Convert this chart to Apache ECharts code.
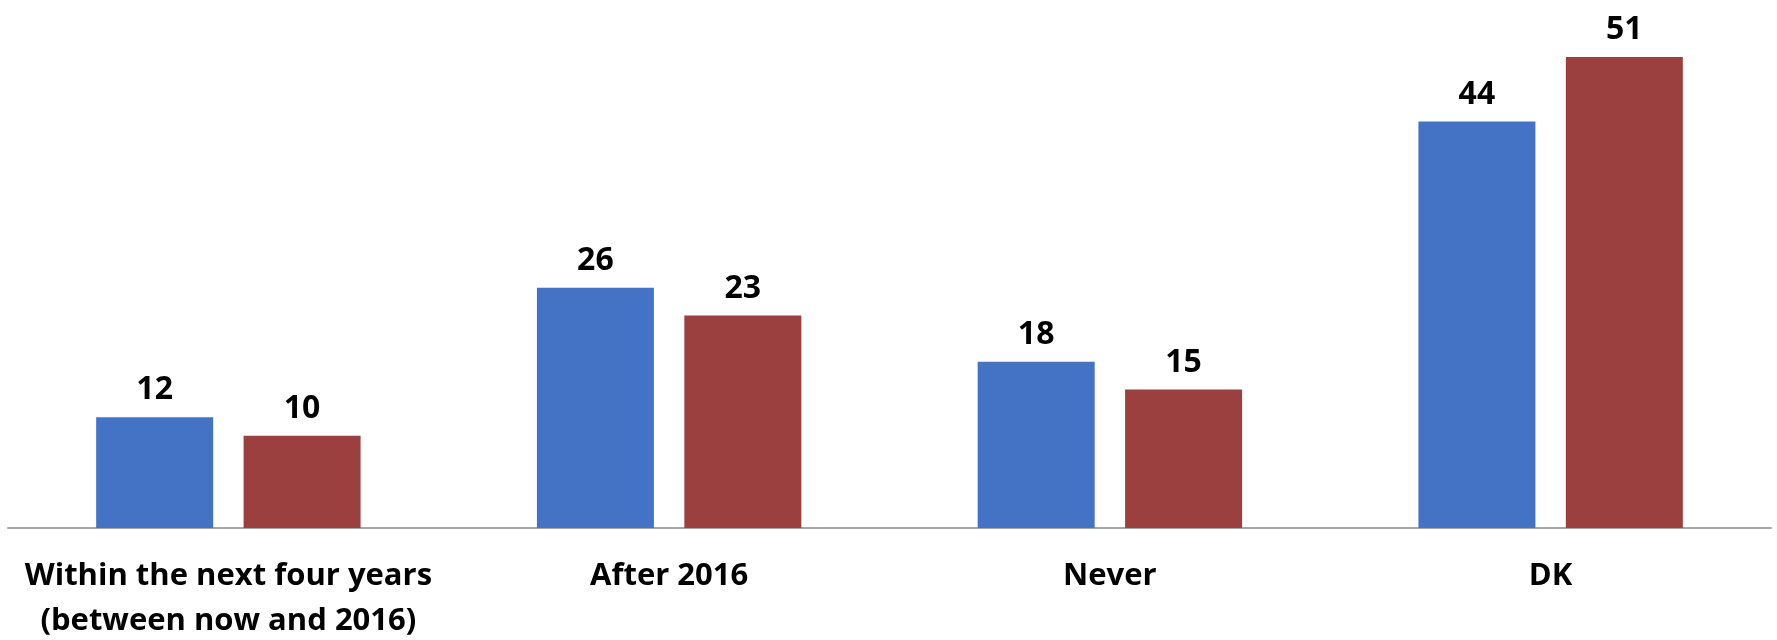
<!DOCTYPE html>
<html><head><meta charset="utf-8">
<script src="https://cdn.jsdelivr.net/npm/echarts@6/dist/echarts.min.js"></script>
<style>html,body{margin:0;padding:0;background:#fff}#c{width:1777px;height:640px}</style>
</head><body><div id="c"></div>
<script>
var categories = ["Within the next four years\n(between now and 2016)", "After 2016", "Never", "DK"];
var seriesA = [12, 26, 18, 44];
var seriesB = [10, 23, 15, 51];
var chart = echarts.init(document.getElementById('c'));
var lbl = {show: true, position: 'top', distance: 11, fontFamily: 'Open Sans', fontWeight: 'bold', fontSize: 32, color: '#000'};
chart.setOption({
  animation: false,
  grid: {left: 8, right: 6, top: 20, bottom: 112, containLabel: false, outerBoundsMode: 'none'},
  xAxis: {type: 'category', data: categories,
    axisLine: {lineStyle: {color: '#A6A6A6', width: 2}}, axisTick: {show: false},
    axisLabel: {fontFamily: 'Open Sans', fontWeight: 'bold', fontSize: 31, color: '#000', margin: 26, lineHeight: 45, interval: 0}},
  yAxis: {type: 'value', min: 0, max: 55, show: false, splitLine: {show: false}},
  series: [
    {type: 'bar', data: seriesA, barWidth: 117, barGap: '26%', itemStyle: {color: '#4472C4'}, label: lbl},
    {type: 'bar', data: seriesB, barWidth: 117, itemStyle: {color: '#9B403E'}, label: lbl}
  ]
});
</script></body></html>
